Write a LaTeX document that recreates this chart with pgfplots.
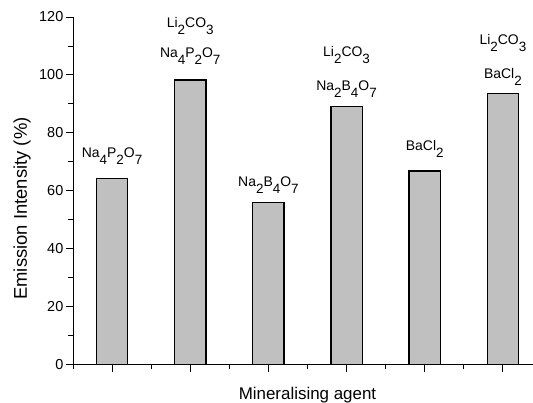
\documentclass[border=0pt]{standalone}
\usepackage{fontspec}
\setmainfont{Liberation Sans}
\usepackage{pgfplots}
\pgfplotsset{compat=1.18}
\definecolor{bargray}{RGB}{192,192,192}
\newcommand{\sub}[1]{\raisebox{-0.5em}{\fontsize{13.5}{15}\selectfont #1}}
\begin{document}
\begin{tikzpicture}
\useasboundingbox (-73bp,-38.3bp) rectangle (460bp,364.7bp);
\clip (-73bp,-38.3bp) rectangle (460bp,364.7bp);
\begin{axis}[
  scale only axis,
  width=469bp, height=347.7bp,
  xmin=0.5, xmax=6.5,
  ymin=0, ymax=120,
  axis x line*=bottom,
  axis y line*=left,
  axis line style={black, line width=1pt},
  xtick={1,2,3,4,5,6},
  xticklabels={},
  minor xtick={0.5,1.5,2.5,3.5,4.5,5.5,6.5},
  ytick={0,20,40,60,80,100,120},
  minor ytick={10,30,50,70,90,110},
  tick align=outside,
  major tick length=7bp,
  minor tick length=4.5bp,
  tick style={black, line width=0.9pt},
  /pgf/number format/assume math mode=true,
  tick label style={font=\fontsize{14.5}{16}\selectfont},
  yticklabel style={inner sep=2.5pt},
  ylabel={Emission Intensity (\%)},
  xlabel={Mineralising agent},
  xlabel style={font=\fontsize{17}{20}\selectfont, at={(axis description cs:0.5,-0.0987)}, anchor=base},
  ylabel style={font=\fontsize{18.5}{20}\selectfont, at={(axis description cs:-0.1087,0.449)}, anchor=center},
  clip=false,
]
\addplot[ybar, bar width=0.4, fill=bargray, draw=black, line width=1.3pt]
  coordinates {(1,64.2) (2,98.3) (3,56.0) (4,89.0) (5,66.9) (6,93.6)};
\begin{scope}[every node/.style={anchor=base, font=\fontsize{14}{16}\selectfont, inner sep=0pt}]
\node at (axis cs:1,71.4) {Na\sub{4}P\sub{2}O\sub{7}};
\node at (axis cs:2,106.0) {Na\sub{4}P\sub{2}O\sub{7}};
\node at (axis cs:2,116.5) {Li\sub{2}CO\sub{3}};
\node at (axis cs:3,61.5) {Na\sub{2}B\sub{4}O\sub{7}};
\node at (axis cs:4,94.7) {Na\sub{2}B\sub{4}O\sub{7}};
\node at (axis cs:4,106.5) {Li\sub{2}CO\sub{3}};
\node at (axis cs:5,74.0) {BaCl\sub{2}};
\node at (axis cs:6,98.7) {BaCl\sub{2}};
\node at (axis cs:6,110.6) {Li\sub{2}CO\sub{3}};
\end{scope}
\end{axis}
\end{tikzpicture}
\end{document}
